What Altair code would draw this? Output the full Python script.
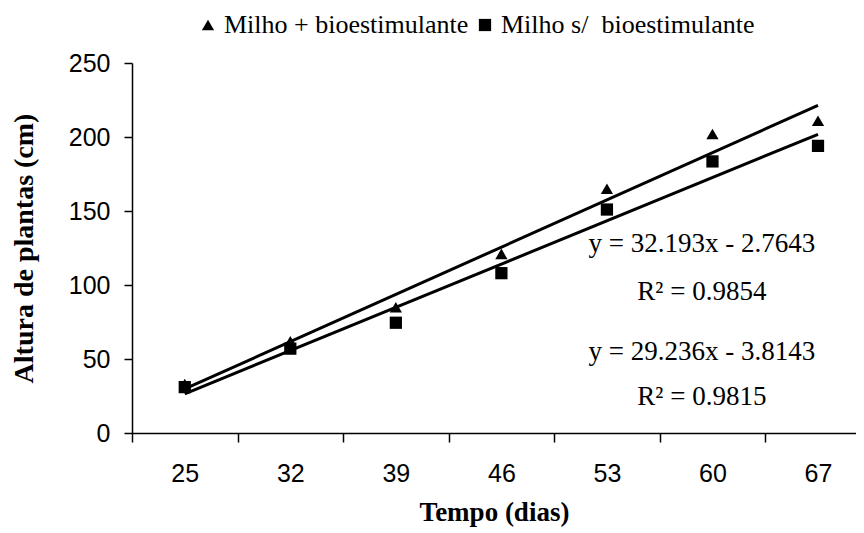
import altair as alt
import pandas as pd

# ---- data ----
dias = [25, 32, 39, 46, 53, 60, 67]
milho_bio = [33, 62, 85, 121, 165, 202, 211]
milho_sem = [31, 57, 74.5, 108, 151, 183.5, 194]
series = ["Milho + bioestimulante", "Milho s/\u00a0 bioestimulante"]
y_ticks = [0, 50, 100, 150, 200, 250]

eq_text = ["y = 32.193x - 2.7643", "R\u00b2 = 0.9854", "y = 29.236x - 3.8143", "R\u00b2 = 0.9815"]
eq_x = [5.9, 5.9, 5.9, 5.9]
eq_y = [128, 95, 55, 24]

idx = list(range(1, len(dias) + 1))
rows = []
for s, vals in zip(series, [milho_bio, milho_sem]):
    for i, d, v in zip(idx, dias, vals):
        rows.append({"idx": i, "dia": d, "altura": v, "serie": s})
df = pd.DataFrame(rows)
ann = pd.DataFrame({"x": eq_x, "y": eq_y, "t": eq_text})

W, H = 724, 370
xscale = alt.Scale(domain=[0.5, 7.36], nice=False, zero=False)
yscale = alt.Scale(domain=[0, 250], nice=False)

label_arr = "[" + ",".join("'" + str(d) + "'" for d in dias) + "]"
x_vals = []
for i in idx:
    x_vals += [i - 0.5, i]

is_int = "floor(datum.value) === datum.value"
xaxis = alt.Axis(
    values=x_vals,
    labelExpr=is_int + " ? " + label_arr + "[datum.value - 1] : ''",
    tickOpacity={"condition": {"test": is_int, "value": 0}, "value": 1},
    tickSize=9, tickWidth=1.5, tickColor="black",
    domainColor="black", domainWidth=1.5,
    labelFont="Liberation Sans", labelFontSize=25, labelColor="black",
    labelPadding=19, labelOverlap=False, labelFlush=False,
    title="Tempo (dias)", titleFont="Liberation Serif", titleFontSize=27,
    titleFontWeight="bold", titleColor="black", titlePadding=13,
    grid=False,
)
yaxis = alt.Axis(
    values=y_ticks,
    tickSize=8, tickWidth=1.5, tickColor="black",
    domainColor="black", domainWidth=1.5,
    labelFont="Liberation Sans", labelFontSize=25, labelColor="black",
    labelPadding=14,
    title="Altura de plantas (cm)", titleFont="Liberation Serif", titleFontSize=28,
    titleFontWeight="bold", titleColor="black", titlePadding=30,
    grid=False,
)

pts = alt.Chart(df).mark_point(filled=True, size=150, color="black", opacity=1).encode(
    x=alt.X("idx:Q", scale=xscale, axis=xaxis),
    y=alt.Y("altura:Q", scale=yscale, axis=yaxis),
    shape=alt.Shape(
        "serie:N",
        scale=alt.Scale(domain=series, range=["triangle-up", "square"]),
        legend=alt.Legend(
            title=None, orient="none", direction="horizontal",
            legendX=63, legendY=-51, padding=0,
            symbolFillColor="black", symbolStrokeColor="black", symbolSize=150,
            labelFont="Liberation Serif", labelFontSize=26, labelColor="black",
            labelOffset=3, columnPadding=3, labelLimit=0,
        ),
    ),
)

lines = alt.Chart(df).transform_regression(
    "idx", "altura", groupby=["serie"], extent=[1, 7]
).mark_line(color="black", strokeWidth=3).encode(
    x=alt.X("idx:Q", scale=xscale, axis=xaxis),
    y=alt.Y("altura:Q", scale=yscale, axis=yaxis),
    detail="serie:N",
)

txt = alt.Chart(ann).mark_text(
    font="Liberation Serif", fontSize=27, color="black", align="center", baseline="middle"
).encode(
    x=alt.X("x:Q", scale=xscale, axis=xaxis),
    y=alt.Y("y:Q", scale=yscale, axis=yaxis),
    text="t:N",
)

chart = alt.layer(lines, pts, txt).properties(
    width=W, height=H,
    autosize=alt.AutoSizeParams(type="none"),
    padding={"left": 124, "top": 55, "right": 0, "bottom": 94},
    background="white",
).configure_view(stroke=None)

chart.save("out.html", embed_options={"renderer": "svg", "actions": False})
